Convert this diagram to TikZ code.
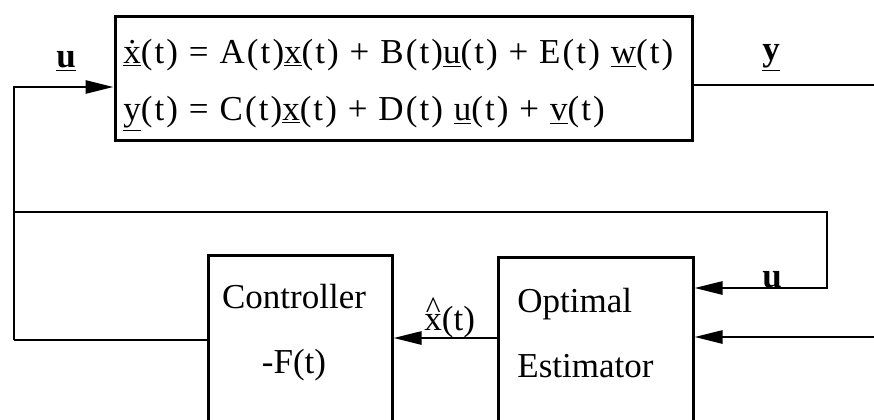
\documentclass[tikz,border=0pt]{standalone}
\usepackage{fontspec}
\setmainfont{Liberation Serif}
\newfontfamily\eqfont[LetterSpace=6]{Liberation Serif}
\usetikzlibrary{arrows.meta,fit}

\tikzset{
  blk/.style={draw, line width=1.5pt, inner sep=0pt},
  sig/.style={line width=1.3pt},
  arr/.style={sig, -{Triangle[length=14pt,width=6.5pt]}},
  lbl/.style={inner sep=0pt, anchor=base},
  eqn/.style={inner sep=0pt, anchor=base west, font=\eqfont\fontsize{17.5}{21}\selectfont}
}
% hat drawn as a raised caret over x
\newcommand{\xhatsym}{\ooalign{x\cr\hidewidth\raisebox{0.32em}{\scalebox{0.9}{\textasciicircum}}\hidewidth\cr}}

\begin{document}
\begin{tikzpicture}[x=0.5pt,y=-0.5pt,font=\fontsize{17.5}{21}\selectfont]
  \clip (0,0) rectangle (874,419);

  % Plant
  \node[blk, fit={(115,16) (692,140)}] (plant) {};
  \node[eqn] (eq1) at (123,63) {\underline{\.x}(t) = A(t)\underline{x}(t) + B(t)\underline{u}(t) + E(t) \underline{w}(t)};
  \node[eqn] (eq2) at (123,120) {\underline{y}(t) = C(t)\underline{x}(t) + D(t) \underline{u}(t) + \underline{v}(t)};

  % Controller and estimator (open at the bottom)
  \node[blk, fit={(208,255) (392,470)}] (ctrl) {};
  \node[lbl] (ctrl1) at (294,308) {Controller};
  \node[lbl] (ctrl2) at (294,373) {-F(t)};
  \node[blk, fit={(498,257) (693,470)}] (est) {};
  \node[lbl, anchor=base west] (est1) at (517,312) {Optimal};
  \node[lbl, anchor=base west] (est2) at (517,377) {Estimator};

  % Signal points
  \coordinate (lt) at (14,87);
  \coordinate (lb) at (14,340);
  \coordinate (fbL) at (14,212);
  \coordinate (fbR) at (827,212);
  \coordinate (fbin) at (827,288);
  \coordinate (yout) at (874,85);
  \coordinate (yin) at (874,337);
  \coordinate (xh) at (498,338);

  % Connectors
  \draw[arr] (lb) -- (lt) -- (lt -| plant.west);
  \draw[sig] (ctrl.west |- lb) -- (lb);
  \draw[arr] (fbL) -- (fbR) -- (fbin) -- (fbin -| est.east);
  \draw[sig] (plant.east |- yout) -- (yout);
  \draw[arr] (yin) -- (yin -| est.east);
  \draw[arr] (xh) -- (xh -| ctrl.east);

  % Labels
  \node[lbl] (ulbl) at (66,67) {\textbf{\underline{u}}};
  \node[lbl] (ylbl) at (771,60) {\textbf{\underline{y}}};
  \node[lbl] (ufb) at (772,287) {\textbf{u}};
  \node[lbl, anchor=base west] (xhlbl) at (424,330) {\xhatsym(t)};
\end{tikzpicture}
\end{document}
